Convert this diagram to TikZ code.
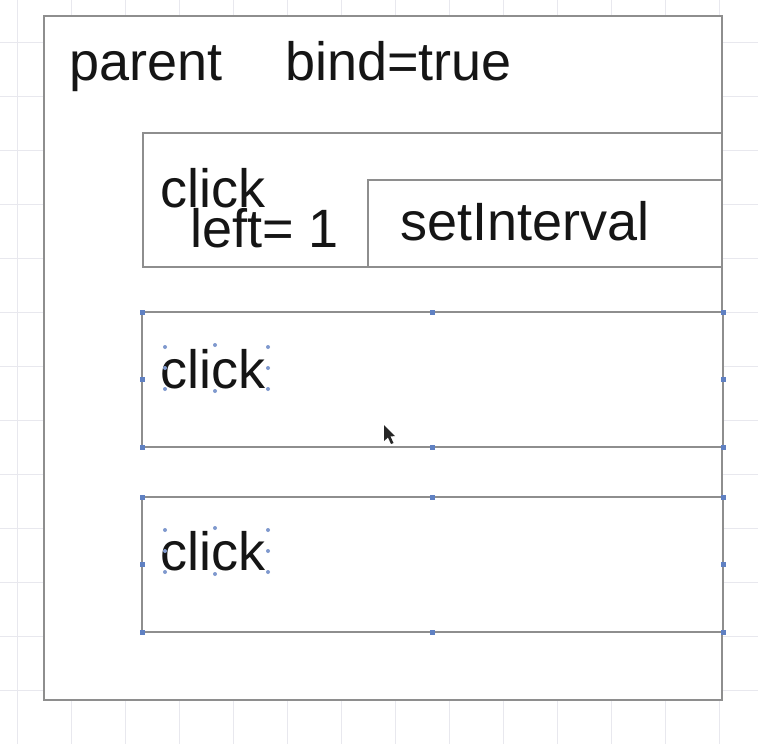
\documentclass[tikz,border=0pt]{standalone}
\usepackage{fontspec}
\setmainfont{Liberation Sans}
\definecolor{gridc}{HTML}{E8E8EE}
\definecolor{boxc}{HTML}{8E8E8E}
\definecolor{txtc}{HTML}{151515}
\definecolor{handlec}{HTML}{5F80C2}
\tikzset{
  box/.style={draw=boxc, line width=2pt, fill=white, rectangle, inner sep=0pt, outer sep=0pt, anchor=north west},
  lbl/.style={anchor=base west, inner sep=0pt, text=txtc, font=\fontsize{54}{54}\selectfont},
  handle/.style={fill=handlec, draw=none, minimum size=5pt, inner sep=0pt, rectangle},
  thandle/.style={fill=handlec!80, draw=none, circle, minimum size=4pt, inner sep=0pt}
}
\begin{document}
\begin{tikzpicture}[x=1pt,y=-1pt]
\useasboundingbox (0,0) rectangle (758,744);
\fill[white] (0,0) rectangle (758,744);
% grid
\foreach \gx in {17,71,...,773} \draw[gridc, line width=1pt] (\gx,0) -- (\gx,744);
\foreach \gy in {42,96,...,744} \draw[gridc, line width=1pt] (0,\gy) -- (758,\gy);
% boxes
\node[box, minimum width=678pt, minimum height=684pt] (outer) at (44,16) {};
\node[box, minimum width=579pt, minimum height=134pt] (b1) at (143,133) {};
\node[box, minimum width=354pt, minimum height=87pt] (si) at (368,180) {};
\node[box, minimum width=581pt, minimum height=135pt] (b2) at (142,312) {};
\node[box, minimum width=581pt, minimum height=135pt] (b3) at (142,497) {};
% texts
\node[lbl] (tparent) at (69,80) {parent};
\node[lbl] (tbind) at (285,80) {bind=true};
\node[lbl, text depth=0pt] (tclick1) at (160,207) {click};
\node[lbl, text height=0.7em] (tleft) at (190,247) {left= 1};
\node[lbl] (tsi) at (400,240) {setInterval};
\node[lbl] (tclick2) at (160,388) {click};
\node[lbl] (tclick3) at (160,570) {click};
% selection handles on boxes
\foreach \bb in {b2,b3}{
  \foreach \an in {north west,north,north east,west,east,south west,south,south east}
    \node[handle] at (\bb.\an) {};
}
% text handles
\foreach \ty in {0,183}{
  \foreach \px/\py in {165/347,215/345,268/347,165/368,268/368,165/389,215/391,268/389}
    \node[thandle] at (\px,\py+\ty) {};
}
% mouse cursor
\fill[black!85] (384,425) -- (384,441) -- (388,437.5) -- (391,444) -- (393.5,443) -- (390.5,436.5) -- (395,436) -- cycle;
\end{tikzpicture}
\end{document}
